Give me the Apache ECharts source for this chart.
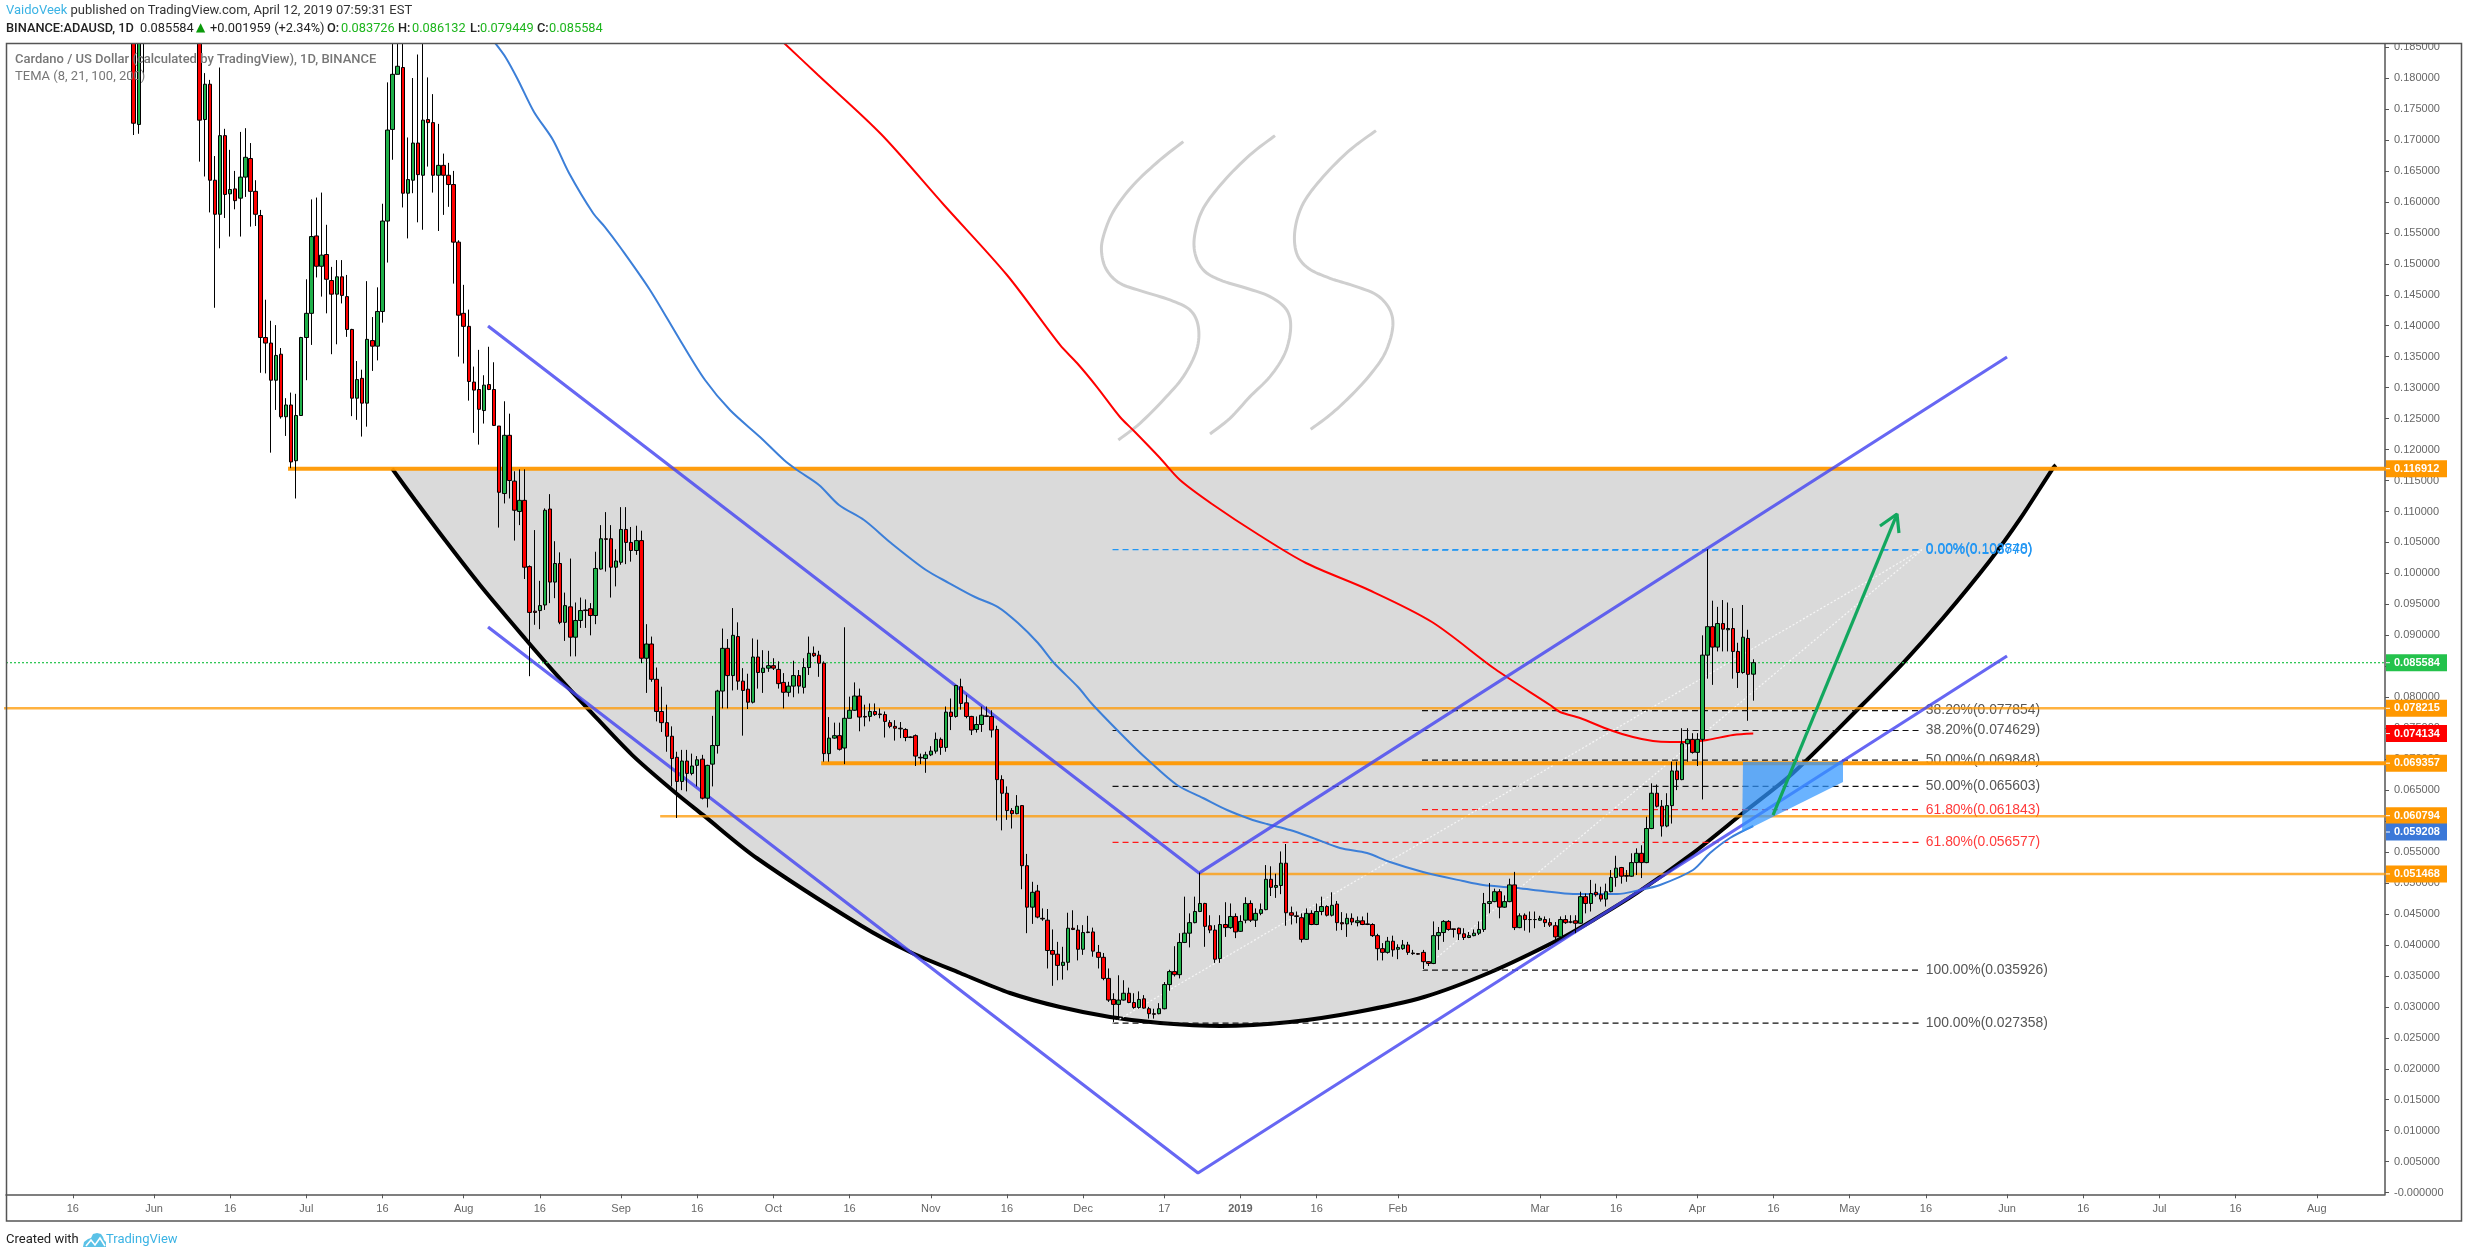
<!DOCTYPE html>
<html lang="en">

<head>
    <meta charset="UTF-8">
    <title>ADAUSD daily</title>
    <script src="https://cdn.jsdelivr.net/npm/echarts@6/dist/echarts.min.js"></script>
    <style>
        html, body { margin: 0; padding: 0; background: #fff; }
        #box { width: 2468px; height: 1258px; }
    </style>
</head>

<body>
    <div id="box"></div>
    <script>
        // all days count from 2018-06-01
        const tickDays = [-16, 0, 15, 30, 45, 61, 76, 92, 107, 122, 137, 153, 168, 183, 199, 214, 229, 245, 273, 288, 304, 319, 334, 349, 365, 380, 395, 410, 426]
        const tickLabels = ['16', 'Jun', '16', 'Jul', '16', 'Aug', '16', 'Sep', '16', 'Oct', '16', 'Nov', '16', 'Dec', '17', '2019', '16', 'Feb', 'Mar', '16', 'Apr', '16', 'May', '16', 'Jun', '16', 'Jul', '16', 'Aug']
        const priceTicks = [0, .005, .01, .015, .02, .025, .03, .035, .04, .045, .05, .055, .06, .065, .07, .075, .08, .085, .09, .095, .1, .105, .11, .115, .12, .125, .13, .135, .14, .145, .15, .155, .16, .165, .17, .175, .18, .185]

        const firstCandleDay = -4
        // open, close, low, high. null = candle sits above the visible range
        const ohlc = [
            [.19, .1727, .1708, .2], [.1725, .2, .171, .21], [.21, .205, .1805, .215],
            null, null, null, null, null, null, null, null, null, null,
            [.2, .1732, .1665, .21], [.1733, .179, .1641, .1808], [.179, .1635, .1583, .1797], [.1635, .158, .1429, .1674],
            [.158, .1707, .1525, .1817], [.1707, .1612, .1574, .1718], [.1613, .162, .1544, .1684], [.1621, .1602, .1588, .165],
            [.1606, .164, .1544, .1713], [.164, .1672, .1608, .1719], [.167, .1617, .156, .1695], [.1617, .158, .1561, .1635],
            [.1578, .1381, .1324, .1587], [.1381, .1372, .1323, .1442], [.1372, .1312, .1195, .1408], [.1312, .1352, .1264, .1401],
            [.1354, .1253, .125, .1364], [.1253, .1272, .1222, .1283], [.1272, .118, .117, .1292], [.1182, .1255, .1121, .129],
            [.1255, .1381, .1255, .1382], [.1381, .142, .1312, .1475], [.142, .1544, .1369, .1604], [.1545, .1496, .1478, .1607],
            [.1496, .1514, .1447, .1615], [.1515, .1475, .142, .1563], [.1473, .1451, .1354, .1495], [.1451, .1479, .137, .1506],
            [.1479, .1449, .1436, .1506], [.1447, .1394, .1382, .1482], [.1394, .1283, .1254, .1395], [.1283, .1313, .1248, .1343],
            [.1315, .1275, .1221, .1329], [.1275, .1378, .1237, .1472], [.1376, .1367, .1327, .1414], [.1367, .1423, .1344, .1462],
            [.1423, .1569, .1405, .1597], [.1569, .1716, .1502, .1793], [.1717, .1806, .1668, .19], [.1806, .1819, .1806, .19],
            [.1817, .1614, .1591, .19], [.1614, .1636, .1541, .1704], [.1635, .1695, .1614, .18], [.1695, .1644, .1567, .1838],
            [.1643, .1732, .1555, .19], [.1733, .1728, .1657, .1801], [.1728, .1643, .1615, .1774], [.1643, .1659, .1553, .1726],
            [.1659, .1643, .1579, .1678], [.1643, .1628, .1592, .1663], [.1628, .1535, .1468, .165], [.1535, .1417, .135, .1538],
            [.142, .1399, .1339, .1466], [.1399, .131, .1279, .1426], [.1309, .1296, .1227, .1334], [.1297, .1265, .1208, .1361],
            [.1263, .1304, .1242, .132], [.1305, .1297, .1296, .1366], [.1297, .1239, .1238, .1341], [.1238, .1131, .1074, .1238],
            [.1129, .1223, .1113, .1278], [.1223, .115, .1121, .1258], [.1149, .1102, .1053, .1165], [.11, .1118, .1078, .1168],
            [.1118, .101, .0991, .1168], [.1011, .0937, .0834, .1013], [.0939, .0937, .0917, .107], [.094, .0948, .091, .0988],
            [.0949, .1102, .0941, .1105], [.1104, .0986, .0952, .1128], [.0986, .1016, .096, .1052], [.1016, .0921, .0918, .1034],
            [.0921, .0948, .0891, .0969], [.0946, .0897, .0866, .1024], [.0897, .0924, .0866, .0953], [.0924, .094, .0912, .0961],
            [.0941, .094, .0912, .0958], [.0943, .0932, .09, .0952], [.0932, .1008, .0918, .1035], [.1007, .1056, .1006, .1078],
            [.1056, .1055, .1003, .1099], [.1056, .101, .0961, .1078], [.101, .102, .0979, .1039], [.1018, .1071, .1014, .1107],
            [.1071, .105, .1015, .1107], [.105, .1037, .1019, .1075], [.1037, .1053, .103, .1077], [.1053, .0863, .0855, .1069],
            [.0863, .0886, .0807, .0918], [.0886, .0829, .0825, .0898], [.0829, .0777, .0761, .0848], [.0777, .0759, .0744, .0817],
            [.0759, .0737, .0712, .0788], [.0737, .0701, .0656, .0753], [.0703, .0664, .0605, .0712], [.0664, .0697, .065, .0715],
            [.0697, .0677, .0648, .0715], [.0677, .0689, .0674, .0709], [.069, .0699, .0656, .0705], [.07, .0637, .0635, .0707],
            [.0637, .069, .0622, .0691], [.0692, .0722, .0656, .077], [.0722, .081, .0709, .0812], [.081, .0879, .0782, .0911],
            [.0879, .0835, .0782, .0894], [.0835, .09, .0811, .0944], [.0898, .0826, .0812, .0921], [.0826, .0811, .0738, .0847],
            [.0813, .0792, .0781, .0838], [.0792, .0865, .079, .0895], [.0865, .084, .0814, .0893], [.084, .0847, .0807, .0876],
            [.0847, .0851, .0841, .0875], [.0851, .0847, .0844, .0863], [.0845, .0822, .0814, .0858], [.0824, .0808, .0782, .0839],
            [.0808, .0818, .0801, .0825], [.0818, .0835, .08, .0859], [.0835, .0818, .0806, .0844], [.0816, .0848, .0806, .0863],
            [.0848, .0871, .0836, .0898], [.0871, .0867, .0865, .0882], [.0868, .0855, .0833, .0875], [.0855, .0709, .0696, .0858],
            [.0709, .0734, .0696, .0768], [.0734, .0738, .0733, .0759], [.0738, .0716, .0714, .0759], [.0718, .0766, .0692, .0913],
            [.0766, .0779, .0766, .0801], [.0779, .0802, .0778, .0824], [.0802, .0768, .0745, .0814], [.0769, .0768, .0753, .0788],
            [.0769, .0777, .0761, .079], [.0777, .0772, .077, .079], [.0773, .0772, .0766, .0782], [.0772, .0761, .0735, .0777],
            [.0759, .0753, .075, .0763], [.0753, .075, .073, .0763], [.075, .0749, .0734, .076], [.0748, .0735, .0729, .075],
            [.0736, .0735, .0734, .0737], [.0738, .0705, .0689, .074], [.0703, .0702, .0692, .0709], [.0701, .0707, .0678, .0712],
            [.0707, .0713, .0705, .0721], [.0713, .0732, .0709, .0743], [.0732, .0719, .0707, .0735], [.0719, .0776, .0712, .0785],
            [.0776, .0769, .0747, .0798], [.0769, .0819, .0767, .082], [.0817, .079, .078, .083], [.0791, .0769, .0766, .0804],
            [.0769, .0747, .0739, .077], [.0748, .0756, .0743, .0769], [.0756, .0771, .0744, .0785], [.077, .0769, .0768, .0785],
            [.0769, .0747, .0735, .0779], [.0748, .0667, .0601, .0754], [.0667, .0645, .0585, .0674], [.0645, .0617, .0602, .0656],
            [.0617, .0612, .0588, .0621], [.0612, .0624, .0611, .0642], [.0625, .0528, .049, .0626], [.0528, .0461, .0419, .0547],
            [.0461, .0485, .0434, .0502], [.0487, .0445, .0443, .0497], [.0443, .0442, .0439, .0459], [.044, .0391, .0362, .0458],
            [.0391, .0385, .0334, .0425], [.0385, .0367, .0343, .0405], [.0367, .0372, .0344, .0397], [.0372, .0427, .0359, .0452],
            [.0427, .0425, .0424, .0456], [.0424, .0393, .0375, .0432], [.0393, .042, .0384, .0432], [.0421, .042, .0419, .0447],
            [.0421, .039, .0381, .0428], [.0388, .038, .0362, .04], [.038, .0346, .0343, .0387], [.0346, .0311, .0308, .0362],
            [.0312, .0304, .0275, .0322], [.0304, .0311, .0279, .0351], [.0311, .0322, .031, .0343], [.0322, .0307, .0306, .0331],
            [.0307, .0299, .0297, .0322], [.0299, .0312, .0297, .0325], [.0313, .0298, .0297, .0319], [.0297, .0289, .0281, .03],
            [.0289, .0288, .0281, .0297], [.0289, .0297, .0288, .0306], [.0297, .0336, .0296, .034], [.0336, .0357, .0326, .036],
            [.0357, .0352, .0349, .0398], [.0352, .0404, .0346, .0419], [.0404, .0419, .0403, .0478], [.0419, .0436, .0396, .0451],
            [.0436, .0454, .0435, .0478], [.0454, .0467, .0453, .0517], [.0467, .043, .0397, .0468], [.0431, .0424, .0419, .0448],
            [.0424, .0377, .0371, .0432], [.0378, .0433, .0371, .0448], [.0433, .0428, .0413, .0469], [.0428, .0446, .0426, .0467],
            [.0446, .0421, .0411, .0451], [.0422, .0438, .0421, .0448], [.044, .0467, .0435, .0477], [.0467, .044, .0437, .0472],
            [.044, .0451, .0429, .0459], [.0451, .0457, .0448, .0467], [.0457, .0506, .0456, .0529], [.0506, .0493, .0479, .0527],
            [.0493, .0496, .0476, .0515], [.0496, .0532, .0482, .0551], [.0532, .0452, .0431, .0563], [.0452, .0448, .0433, .0462],
            [.0447, .0446, .0435, .0454], [.0444, .0409, .0404, .0451], [.0409, .0451, .0408, .0459], [.0451, .0433, .0432, .0456],
            [.0433, .0454, .0432, .0467], [.0454, .0462, .0448, .0478], [.0462, .0448, .0446, .0464], [.0448, .0464, .0446, .0485],
            [.0466, .0436, .0423, .0471], [.0436, .0434, .0424, .0453], [.0434, .0443, .0413, .0451], [.0443, .0437, .0432, .0451],
            [.0436, .0439, .043, .0446], [.0439, .0433, .0432, .0446], [.0434, .0433, .0432, .0452], [.0433, .0415, .0413, .0435],
            [.0415, .0394, .0375, .0418], [.0394, .0388, .0375, .0403], [.0388, .0406, .0386, .0413], [.0406, .0392, .0381, .0415],
            [.0393, .0396, .0377, .0401], [.0394, .04, .0392, .0408], [.04, .0388, .0384, .0405], [.0387, .0386, .0384, .0392],
            [.0386, .0385, .0384, .0387], [.0388, .0373, .0361, .0392], [.0373, .037, .0366, .0374], [.037, .0415, .0369, .0438],
            [.0415, .042, .0392, .0429], [.042, .0438, .0405, .044], [.0438, .0425, .0423, .044], [.0426, .0425, .0412, .0426],
            [.0427, .0418, .0408, .0428], [.0418, .0412, .0408, .0427], [.0412, .0415, .0411, .0421], [.0415, .0419, .0414, .0425],
            [.0419, .0425, .0416, .0438], [.0425, .0467, .0421, .0484], [.0467, .047, .0451, .05], [.047, .0486, .0469, .0491],
            [.0486, .0461, .0443, .049], [.0461, .047, .046, .048], [.047, .0497, .0469, .0507], [.0497, .0428, .0424, .0518],
            [.0428, .0447, .0427, .0451], [.0448, .0441, .0423, .0451], [.0441, .0441, .042, .0454], [.0441, .0441, .0427, .0454],
            [.044, .0443, .0439, .0447], [.0441, .0436, .0429, .0446], [.0436, .0432, .0429, .0443], [.0431, .0413, .0408, .0437],
            [.0413, .0441, .041, .0446], [.0441, .0436, .0434, .0448], [.0437, .0437, .0435, .0448], [.0439, .0435, .0419, .0448],
            [.0435, .0478, .0434, .0486], [.0478, .0467, .0451, .0483], [.0467, .0483, .0454, .0505], [.0485, .0481, .0478, .0499],
            [.0481, .0474, .047, .0494], [.0474, .0486, .0462, .0499], [.0486, .0509, .0485, .0521], [.0509, .0524, .0494, .0544],
            [.0525, .0511, .0499, .0526], [.0512, .0511, .0502, .0521], [.0511, .0533, .051, .0548], [.0533, .0548, .0513, .0556],
            [.0548, .0533, .0508, .0561], [.0533, .0588, .0532, .0607], [.0588, .0645, .0587, .0661], [.0645, .0624, .0622, .0659],
            [.0624, .0592, .0575, .0634], [.0592, .0625, .059, .0645], [.0625, .0681, .0596, .0696], [.0681, .0667, .065, .0696],
            [.0667, .0725, .0666, .075], [.0725, .0732, .0696, .075], [.0732, .0711, .0709, .0742], [.0711, .0732, .0689, .0742],
            [.0732, .0868, .0635, .09], [.0868, .0914, .083, .1039], [.0914, .0881, .082, .0956], [.0881, .0919, .0874, .0946],
            [.0919, .091, .0874, .0957], [.0909, .0911, .0874, .0953], [.0911, .0874, .083, .0944], [.0874, .084, .0815, .0888],
            [.084, .0897, .0838, .0949], [.0895, .0837, .0762, .0909], [.083726, .085584, .079449, .086132]
        ]

        const blueTema = [[67.17, .18566], [69.33, .18324], [71.7, .17969], [74.85, .17452], [78.59, .17], [81.74, .16466], [86.47, .1582], [88.83, .15594], [91.79, .15271], [97.69, .14577], [103.6, .13769], [108.53, .13123], [113.45, .12639], [119.36, .12203], [124.09, .11831], [126.65, .1167], [130.98, .11428], [134.92, .11105], [139.85, .10862], [145.17, .10491], [152.06, .10055], [156.59, .09845], [161.71, .09619], [166.24, .09457], [170.18, .09199], [174.12, .08876], [177.27, .08553], [182, .08165], [184.95, .07875], [191.65, .0731], [195.78, .06986], [201.5, .06583], [206.62, .06373], [211.35, .06179], [215.87, .06034], [219.22, .05953], [223.75, .05856], [228.28, .05727], [233.6, .05565], [238.92, .05484], [243.45, .05339], [249.95, .05178], [257.83, .05032], [261.77, .04968], [268.47, .04919], [273.59, .04871], [279.5, .04822], [288.16, .04822], [292.69, .04887], [296.63, .04968], [303.13, .0521], [306.48, .05484], [310.42, .05727], [315, .059208]]
        const redTema = [[124.09, .18566], [130.79, .18049], [143.19, .17096], [155.6, .1595], [168.01, .14819], [178.45, .13689], [181.8, .13398], [185.74, .1301], [190.27, .12526], [193.22, .12284], [198.15, .11864], [202.09, .11508], [208.39, .11121], [217.65, .1062], [226.9, .10168], [239.31, .09732], [251.72, .09215], [264.13, .08456], [274.97, .07875], [276.94, .07762], [280.87, .07665], [286.78, .07471], [291.31, .07358], [295.25, .07293], [298.6, .07277], [301.95, .07277], [305.89, .0731], [311.01, .0739], [315, .074134]]

        const cupArc = [[46.9, .116912], [51.41, .11185], [57.32, .10539], [64.21, .09813], [73.07, .0895], [79.97, .083], [85.29, .0783], [94.15, .0707], [102.82, .0645], [108.13, .061], [118.77, .054], [139.06, .04322], [148.91, .03886], [158.76, .03547], [168.6, .03224], [178.45, .02997], [188.3, .02836], [198.15, .02739], [209.97, .02691], [223.75, .02755], [236.95, .02917], [250.15, .03159], [263.34, .03563], [276.54, .04079], [283.44, .044], [292.1, .0484], [303.13, .05484], [312.98, .0613], [322.83, .06776], [336.03, .07842], [344.5, .08553], [352.38, .0928], [361.64, .1021], [367.55, .1088], [374.05, .11702], [374.6, .1175]]

        const channelUpper = [[65.79, .13995], [205.83, .05161], [364.98, .13495]]
        const channelLower = [[65.79, .09134], [205.63, .00317], [364.98, .08666]]

        const squiggleA = [[202.74, .16973], [198.15, .16677], [192.89, .16273], [188.95, .15843], [186.98, .15439], [186.66, .1517], [187.64, .14901], [190.27, .14685], [194.86, .14551], [200.11, .14416], [204.05, .14255], [205.69, .13986], [205.37, .13609], [202.74, .13178], [198.8, .12801], [194.21, .12424], [189.94, .12155]]
        const squiggleB = [[220.8, .1707], [215.87, .16758], [210.62, .16327], [206.68, .15896], [205.04, .15493], [205.04, .1517], [206.68, .14901], [209.96, .14739], [215.21, .14605], [219.81, .1447], [223.09, .14255], [223.88, .13959], [222.76, .13555], [219.81, .13178], [215.87, .12855], [211.93, .12505], [208, .12252]]
        const squiggleC = [[240.69, .17151], [235.57, .16838], [230.31, .16408], [226.37, .15977], [224.73, .15547], [225.06, .1517], [227.36, .14928], [231.63, .14766], [236.22, .14648], [240.82, .14497], [243.44, .14255], [243.97, .13959], [242.46, .13555], [239.5, .13205], [235.57, .12855], [231.63, .12559], [227.82, .12328]]

        const fibPercents = ['0.00%', '38.20%', '50.00%', '61.80%', '100.00%']
        const fibAPrices = [.10377, .077854, .069848, .061843, .035926]
        const fibBPrices = [.103848, .074629, .065603, .056577, .027358]
        const fibAStartDay = 249.75
        const fibBStartDay = 188.8
        const fibEndDay = 348.2

        const levelPrices = [.116912, .078215, .069357, .060794, .051468]
        const levelStartDays = [26.4, -30, 131.4, 99.7, 206]
        const lastPrice = .085584

        const targetBox = [[312.98, .06954], [332.68, .06954], [332.68, .06631], [312.8, .0582]]
        const arrowShaft = [[318.89, .06098], [343.31, .10959]]
        const arrowHead = [[339.96, .10766], [343.31, .10959], [343.7, .10652]]

        const priceTags = [.116912, .085584, .078215, .074134, .069357, .060794, .059208, .051468]
        const priceTagKinds = ['level', 'last', 'level', 'red', 'level', 'level', 'blue', 'level']

        const quoteTexts = ['BINANCE:ADAUSD, 1D', '0.085584', '▲', '+0.001959 (+2.34%)', 'O:', '0.083726', 'H:', '0.086132', 'L:', '0.079449', 'C:', '0.085584']
        const quoteKinds = ['key', 'dark', 'up', 'dark', 'key', 'val', 'key', 'val', 'key', 'val', 'key', 'val']
        const quoteLefts = [6, 140, 196, 210, 327, 341, 398, 412, 470, 480, 537, 549]

        const AXIS_MIN_DAY = -29.15, AXIS_MAX_DAY = 439.43
        const tagFill = { level: '#ff9800', last: '#24c24c', red: '#ff0000', blue: '#3b78d8' }
        const tagShift = { 6: 6, 5: -0.5 } // tradingview pushes touching tags apart
        const fibColor = ['#2196f3', '#111', '#111', '#ff1a1a', '#111']
        const fibTextColor = ['#2196f3', '#555', '#555', '#ff3b3b', '#555']
        const levelWidth = [4, 2.5, 4, 2.5, 2.5]
        const sans = '"Liberation Sans", Arial, sans-serif'
        const quoteStyle = {
            key: { color: '#222', fontWeight: 500, fontSize: 12.8, fontFamily: 'Roboto' },
            dark: { color: '#222', fontWeight: 'normal', fontSize: 12.8, fontFamily: 'Roboto' },
            val: { color: '#1db51d', fontWeight: 'normal', fontSize: 12.8, fontFamily: 'Roboto' },
            up: { color: '#0a9a0a', fontWeight: 'normal', fontSize: 12, fontFamily: '"DejaVu Sans"' }
        }

        function pathLine(name, data, color, width, z, extra) {
            return Object.assign({
                name, type: 'line', data, z, symbol: 'none', silent: true, animation: false,
                lineStyle: { color, width }
            }, extra || {})
        }

        // catmull-rom through the read points, the line series kinks where x turns back
        function squiggleSeries(points) {
            return {
                type: 'custom', z: 2, silent: true, animation: false,
                data: [points[0]],
                encode: { x: 0, y: 1 },
                renderItem(params, api) {
                    const p = points.map(pt => api.coord(pt))
                    const out = []
                    for (let i = 0; i < p.length - 1; i++) {
                        const a = p[Math.max(i - 1, 0)], b = p[i], c = p[i + 1], d = p[Math.min(i + 2, p.length - 1)]
                        for (let s = 0; s < 8; s++) {
                            const t = s / 8, t2 = t * t, t3 = t2 * t
                            out.push([0, 1].map(k => 0.5 * (2 * b[k] + (c[k] - a[k]) * t + (2 * a[k] - 5 * b[k] + 4 * c[k] - d[k]) * t2 + (3 * b[k] - a[k] - 3 * c[k] + d[k]) * t3)))
                        }
                    }
                    out.push(p[p.length - 1])
                    return { type: 'polyline', shape: { points: out }, style: { stroke: '#cfcfcf', fill: 'none', lineWidth: 3 } }
                }
            }
        }

        const series = []
        // cup fill: area between the arc and the top level
        series.push(pathLine('cup', cupArc, '#000', 4, 1, {
            smooth: 0.3,
            areaStyle: { color: '#dadada', opacity: 1, origin: levelPrices[0] }
        }))
        ;[[fibAPrices, fibAStartDay], [fibBPrices, fibBStartDay]].forEach(([prices, start], f) => {
            prices.forEach((p, i) => {
                series.push(pathLine('fib' + f + i, [[start, p], [fibEndDay, p]], fibColor[i], 1, 2, {
                    lineStyle: { color: fibColor[i], width: 1.2, type: [6, 4] }
                }))
            })
            series.push(pathLine('fibTrend' + f, [[start, prices[4]], [fibEndDay, prices[0]]], '#f4f4f4', 1, 2, {
                lineStyle: { color: '#f6f6f6', width: 1.2, type: [2, 2] }
            }))
        })
        // fib labels
        series.push({
            type: 'custom', z: 2, silent: true, animation: false,
            data: fibAPrices.map((p, i) => [fibEndDay, p, i]).concat(fibBPrices.map((p, i) => [fibEndDay, p, i])),
            encode: { x: 0, y: 1 },
            renderItem(params, api) {
                const c = api.coord([api.value(0), api.value(1)])
                const i = api.value(2)
                const text = fibPercents[i] + '(' + api.value(1).toFixed(6) + ')'
                return { type: 'text', style: { x: c[0] + 4, y: c[1], text, fill: fibTextColor[i], font: '13.9px ' + sans, textVerticalAlign: 'middle' } }
            }
        })
        levelPrices.forEach((p, i) => {
            series.push(pathLine('level' + i, [[levelStartDays[i], p], [AXIS_MAX_DAY + 5, p]], '#ff9800', levelWidth[i], 3, {
                lineStyle: { color: '#ff9800', width: levelWidth[i], opacity: i === 0 || i === 2 ? 0.95 : 0.75 }
            }))
        })
        series.push(pathLine('last', [[AXIS_MIN_DAY, lastPrice], [AXIS_MAX_DAY, lastPrice]], '#22c34a', 1, 3, {
            lineStyle: { color: '#22c34a', width: 1.2, type: [2, 2] }
        }))
        series.push(squiggleSeries(squiggleA), squiggleSeries(squiggleB), squiggleSeries(squiggleC))
        series.push(pathLine('tema100', blueTema, '#3c7fd8', 2, 3, { smooth: 0.3 }))
        series.push(pathLine('tema200', redTema, '#ff0000', 2, 3, { smooth: 0.3 }))
        series.push(pathLine('channelUpper', channelUpper, 'rgba(70,70,240,0.82)', 3.2, 4))
        series.push(pathLine('channelLower', channelLower, 'rgba(70,70,240,0.82)', 3.2, 4))
        series.push({
            type: 'candlestick', z: 5, silent: true, animation: false,
            barWidth: 4,
            itemStyle: { color: '#1fb14a', color0: '#ff0000', borderColor: '#000', borderColor0: '#000', borderWidth: 1 },
            encode: { x: 0, y: [1, 2, 3, 4] },
            data: ohlc.map((row, i) => row ? [firstCandleDay + i].concat(row) : null).filter(Boolean)
        })
        // target box
        series.push({
            type: 'custom', z: 6, silent: true, animation: false,
            data: [targetBox[0]],
            encode: { x: 0, y: 1 },
            renderItem(params, api) {
                return { type: 'polygon', shape: { points: targetBox.map(pt => api.coord(pt)) }, style: { fill: 'rgba(48,150,255,0.72)' } }
            }
        })
        series.push(pathLine('arrowShaft', arrowShaft, '#12a75e', 3.2, 7))
        series.push(pathLine('arrowHead', arrowHead, '#12a75e', 3.2, 7))
        // price tags on the axis
        series.push({
            type: 'custom', z: 10, silent: true, animation: false,
            data: priceTags.map((p, i) => [AXIS_MAX_DAY, p, i]),
            encode: { x: 0, y: 1 },
            renderItem(params, api) {
                const idx = api.value(2)
                const y = api.coord([api.value(0), api.value(1)])[1] + (tagShift[idx] || 0)
                const x = params.coordSys.x + params.coordSys.width
                const fill = tagFill[priceTagKinds[idx]]
                return {
                    type: 'group', children: [
                        { type: 'rect', shape: { x: x + 1, y: y - 8.5, width: 61, height: 17 }, style: { fill } },
                        { type: 'rect', shape: { x: x + 1, y: y - 0.5, width: 4, height: 1 }, style: { fill: '#fff' } },
                        { type: 'text', style: { x: x + 9, y, text: api.value(1).toFixed(6), fill: '#fff', font: 'bold 11px ' + sans, textVerticalAlign: 'middle' } }
                    ]
                }
            }
        })

        const option = {
            animation: false,
            backgroundColor: '#fff',
            grid: { left: 6, top: 43.3, width: 2379, height: 1151, containLabel: false, show: false },
            title: [{
                left: 6, top: 4, z: 20, padding: 0,
                text: '{a|VaidoVeek}{b| published on TradingView.com, April 12, 2019 07:59:31 EST}',
                textStyle: { rich: {
                    a: { color: '#3bb3e4', fontFamily: 'Roboto', fontSize: 13, fontWeight: 'normal' },
                    b: { color: '#333', fontFamily: 'Roboto', fontSize: 13, fontWeight: 'normal' }
                } }
            }, {
                left: 15, top: 53, z: 20, padding: 0,
                text: 'Cardano / US Dollar (calculated by TradingView), 1D, BINANCE',
                textStyle: { color: '#777', fontFamily: 'Roboto', fontSize: 13, fontWeight: 500 }
            }, {
                left: 15, top: 70, z: 20, padding: 0,
                text: 'TEMA (8, 21, 100, 200)',
                textStyle: { color: '#777', fontFamily: 'Roboto', fontSize: 13, fontWeight: 400 }
            }, {
                left: 6, top: 1233.5, z: 20, padding: 0,
                text: 'Created with',
                textStyle: { color: '#222', fontFamily: 'Roboto', fontSize: 13, fontWeight: 400 }
            }, {
                left: 106, top: 1233.5, z: 20, padding: 0,
                text: 'TradingView',
                textStyle: { color: '#3bb3e4', fontFamily: 'Roboto', fontSize: 13, fontWeight: 400 }
            }].concat(quoteTexts.map((text, i) => ({
                left: quoteLefts[i], top: 22, z: 20, padding: 0, text, textStyle: quoteStyle[quoteKinds[i]]
            }))),
            xAxis: {
                type: 'value', min: AXIS_MIN_DAY, max: AXIS_MAX_DAY, splitLine: { show: false },
                axisLine: { show: true, onZero: false, lineStyle: { color: '#555', width: 1.5 } },
                axisTick: { show: true, length: 4, lineStyle: { color: '#555' }, customValues: tickDays },
                axisLabel: {
                    color: '#666', fontFamily: sans, fontSize: 11, margin: 9,
                    customValues: tickDays,
                    formatter(v) {
                        const t = tickLabels[tickDays.indexOf(v)]
                        return t === '2019' ? '{b|2019}' : t
                    },
                    rich: { b: { fontWeight: 'bold', color: '#666', fontFamily: sans, fontSize: 11 } }
                }
            },
            yAxis: {
                type: 'value', position: 'right', min: -0.00027, max: 0.18561, splitLine: { show: false },
                axisLine: { show: true, onZero: false, lineStyle: { color: '#555', width: 1.5 } },
                axisTick: { show: true, length: 4, lineStyle: { color: '#555' }, customValues: priceTicks },
                axisLabel: {
                    color: '#666', fontFamily: sans, fontSize: 11, margin: 9,
                    customValues: priceTicks,
                    formatter: v => (v === 0 ? '-' : '') + v.toFixed(6)
                }
            },
            graphic: [
                // candles above the top of the range and the clipped 0.185 label stop at the frame
                { type: 'rect', z: 15, silent: true, shape: { x: 0, y: 0, width: 2468, height: 43 }, style: { fill: '#fff' } },
                { type: 'rect', z: 51, silent: true, shape: { x: 6.5, y: 43.5, width: 2455, height: 1177.5 }, style: { fill: 'none', stroke: '#555', lineWidth: 1.5 } },
                { type: 'polygon', z: 51, silent: true, shape: { points: [[83, 1247], [84, 1242], [88, 1239], [91, 1238], [93, 1234], [97, 1233], [101, 1234], [103, 1237], [104, 1240], [106, 1242], [106, 1247]] }, style: { fill: '#5bc2e7' } },
                { type: 'polyline', z: 52, silent: true, shape: { points: [[86, 1246], [91, 1240], [95, 1245], [100, 1238], [105, 1246]] }, style: { stroke: '#fff', fill: 'none', lineWidth: 1.6 } }
            ],
            series
        }

        const myChart = echarts.init(document.getElementById('box'))
        myChart.setOption(option)
    </script>
</body>

</html>
